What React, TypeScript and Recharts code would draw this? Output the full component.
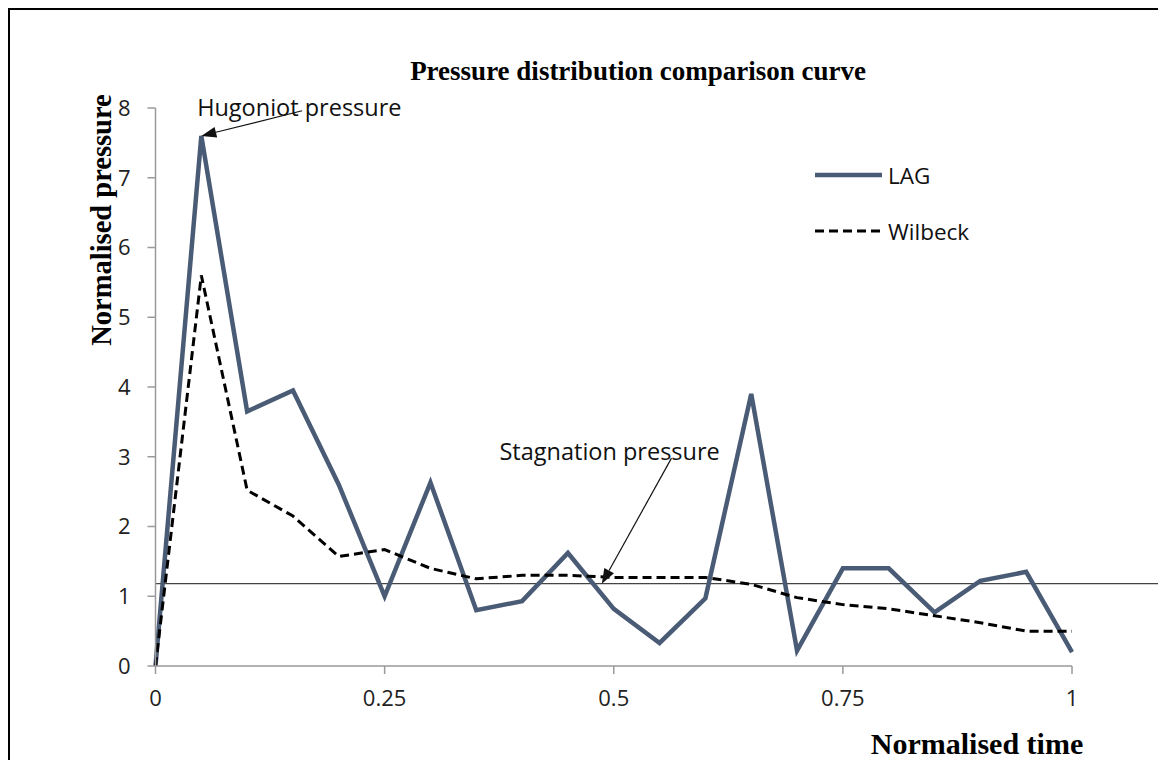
import React from 'react';
import { LineChart, Line, XAxis, YAxis, ReferenceLine, Legend, Label } from 'recharts';

const times = [0, 0.05, 0.1, 0.15, 0.2, 0.25, 0.3, 0.35, 0.4, 0.45, 0.5, 0.55, 0.6, 0.65, 0.7, 0.75, 0.8, 0.85, 0.9, 0.95, 1];
const lagValues = [0, 7.6, 3.65, 3.95, 2.6, 1.0, 2.63, 0.8, 0.93, 1.62, 0.82, 0.33, 0.97, 3.9, 0.22, 1.4, 1.4, 0.77, 1.22, 1.35, 0.2];
const wilbeckValues = [0, 5.6, 2.52, 2.15, 1.57, 1.67, 1.4, 1.25, 1.3, 1.3, 1.27, 1.27, 1.27, 1.17, 0.98, 0.88, 0.82, 0.72, 0.62, 0.5, 0.5];
const xTicks = [0, 0.25, 0.5, 0.75, 1];
const yTicks = [0, 1, 2, 3, 4, 5, 6, 7, 8];
const stagnationLevel = 1.18;

const chartData = times.map((t, i) => ({ t, lag: lagValues[i], wilbeck: wilbeckValues[i] }));

const SANS = '"Open Sans", sans-serif';
const SERIF = '"Liberation Serif", "Times New Roman", serif';
const LAG_COLOR = '#4a5b75';

// arrow with its caption, drawn from tail (first segment point) to head
const arrowShape = (text: string, dx: number, dy: number) => (props: any) => {
    const { x1, y1, x2, y2 } = props;
    const ang = Math.atan2(y2 - y1, x2 - x1);
    const len = 15;
    const half = 5.5;
    const bx = x2 - len * Math.cos(ang);
    const by = y2 - len * Math.sin(ang);
    const pts = [
        [x2, y2],
        [bx + half * Math.sin(ang), by - half * Math.cos(ang)],
        [bx - half * Math.sin(ang), by + half * Math.cos(ang)],
    ].map(p => p.join(',')).join(' ');
    return (
        <g>
            <text x={x1 + dx} y={y1 + dy} fontFamily={SANS} fontSize={23.5} fill="#111" dominantBaseline="central">{text}</text>
            <line x1={x1} y1={y1} x2={bx} y2={by} stroke="#111" strokeWidth={1.2} />
            <polygon points={pts} fill="#111" />
        </g>
    );
};

const renderLegend = (props: any) => {
    const { payload = [] } = props;
    return (
        <svg width={220} height={100}>
            {payload.map((entry: any, i: number) => {
                const y = 25 + i * 56;
                const dashed = entry.payload && entry.payload.strokeDasharray;
                return (
                    <g key={entry.value}>
                        <line x1={5} y1={y} x2={72} y2={y} stroke={entry.color} strokeWidth={dashed ? 3 : 4.5}
                            strokeDasharray={dashed ? '9 5' : undefined} />
                        <text x={78} y={y} fontFamily={SANS} fontSize={22.5} fill="#111" dominantBaseline="central">{entry.value}</text>
                    </g>
                );
            })}
        </svg>
    );
};

const PressureChart: React.FC = () => (
    <div style={{ position: 'relative', width: 1150, height: 750 }}>
        <div style={{ position: 'absolute', left: 328, top: 46, width: 600, textAlign: 'center', fontFamily: SERIF, fontWeight: 'bold', fontSize: 27, lineHeight: '30px', color: '#000' }}>
            Pressure distribution comparison curve
        </div>
        <LineChart width={1150} height={750} data={chartData} margin={{ top: 98, right: 88, left: 0, bottom: 64 }}>
            <XAxis dataKey="t" type="number" domain={[0, 1]} ticks={xTicks} tickFormatter={(v: number) => String(v)}
                stroke="#9a9a9a" strokeWidth={1.5} tickSize={8} tickMargin={16} height={30}
                tick={{ fill: '#222', fontFamily: SANS, fontSize: 22 }}>
                <Label content={({ viewBox }: any) => (
                    <text x={viewBox.x + viewBox.width - 95} y={viewBox.y + 77} textAnchor="middle" dominantBaseline="central"
                        fontFamily={SERIF} fontWeight="bold" fontSize={30} fill="#000">Normalised time</text>
                )} />
            </XAxis>
            <YAxis type="number" domain={[0, 8]} ticks={yTicks} stroke="#9a9a9a" strokeWidth={1.5} tickSize={8} tickMargin={17}
                width={145.5} tick={{ fill: '#222', fontFamily: SANS, fontSize: 22 }}>
                <Label content={({ viewBox }: any) => {
                    const cx = viewBox.x + 91;
                    const cy = viewBox.y + 112;
                    return (
                        <text x={cx} y={cy} textAnchor="middle" dominantBaseline="central" transform={`rotate(-90 ${cx} ${cy})`}
                            fontFamily={SERIF} fontWeight="bold" fontSize={28.5} fill="#000">Normalised pressure</text>
                    );
                }} />
            </YAxis>
            <ReferenceLine segment={[{ x: 0, y: stagnationLevel }, { x: 1.095, y: stagnationLevel }]} ifOverflow="visible"
                stroke="#444" strokeWidth={1.3} />
            <Legend content={renderLegend} layout="horizontal" verticalAlign="middle" align="center"
                wrapperStyle={{ left: 800, top: 140, width: 220, height: 100 }} />
            <Line type="linear" dataKey="lag" name="LAG" stroke={LAG_COLOR} strokeWidth={4.5} dot={false} isAnimationActive={false} />
            <Line type="linear" dataKey="wilbeck" name="Wilbeck" stroke="#000" strokeWidth={3} strokeDasharray="9 5" dot={false} isAnimationActive={false} />
            <ReferenceLine segment={[{ x: 0.16, y: 7.96 }, { x: 0.05, y: 7.6 }]} ifOverflow="visible"
                shape={arrowShape('Hugoniot pressure', -105, -4)} />
            <ReferenceLine segment={[{ x: 0.563, y: 2.98 }, { x: 0.487, y: 1.18 }]} ifOverflow="visible"
                shape={arrowShape('Stagnation pressure', -172, -7)} />
        </LineChart>
    </div>
);

export default function App() {
    return (
        <div style={{ position: 'fixed', left: 0, top: 0, width: 1158, height: 760, overflow: 'hidden', background: '#fff' }}>
            <div style={{ position: 'absolute', left: 8, top: 8, width: 1160, height: 760, border: '2px solid #000' }}>
                <PressureChart />
            </div>
        </div>
    );
}
